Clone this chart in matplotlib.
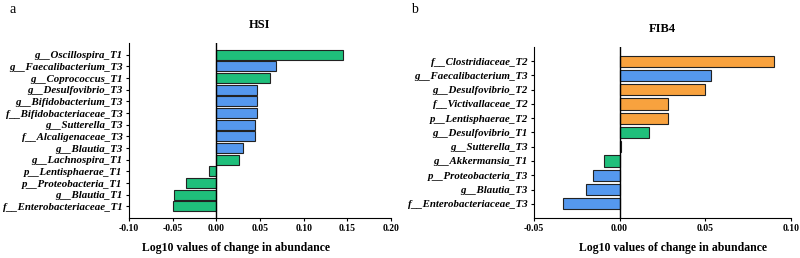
import numpy as np
import matplotlib.pyplot as plt

# HSI panel data (top to bottom)
hsi_labels = ['g__Oscillospira_T1', 'g__Faecalibacterium_T3', 'g__Coprococcus_T1',
              'g__Desulfovibrio_T3', 'g__Bifidobacterium_T3', 'f__Bifidobacteriaceae_T3',
              'g__Sutterella_T3', 'f__Alcaligenaceae_T3', 'g__Blautia_T3',
              'g__Lachnospira_T1', 'p__Lentisphaerae_T1', 'p__Proteobacteria_T1',
              'g__Blautia_T1', 'f__Enterobacteriaceae_T1']
hsi_values = [0.145, 0.068, 0.062, 0.047, 0.046, 0.046, 0.044, 0.044, 0.031,
              0.026, -0.008, -0.035, -0.048, -0.049]

# FIB4 panel data (top to bottom)
fib_labels = ['f__Clostridiaceae_T2', 'g__Faecalibacterium_T3', 'g__Desulfovibrio_T2',
              'f__Victivallaceae_T2', 'p__Lentisphaerae_T2', 'g__Desulfovibrio_T1',
              'g__Sutterella_T3', 'g__Akkermansia_T1', 'p__Proteobacteria_T3',
              'g__Blautia_T3', 'f__Enterobacteriaceae_T3']
fib_values = [0.0905, 0.0537, 0.050, 0.0285, 0.0285, 0.0171, 0.0008, -0.0088,
              -0.0156, -0.0194, -0.0333]

colors = {'T1': '#1fbf7b', 'T2': '#f8a23e', 'T3': '#5598ee'}

plt.rcParams['font.family'] = 'Liberation Serif'

fig = plt.figure(figsize=(8, 2.58), dpi=100)


def draw(ax, labels, values, xlim, xticks, title, height, xlab_x):
    y = np.arange(len(labels))
    cols = [colors[l[-2:]] for l in labels]
    ax.barh(y, values, height=height, color=cols, edgecolor='#222222', linewidth=0.8)
    ax.axvline(0, color='black', linewidth=1.0)
    ax.set_ylim(len(labels), -1)
    ax.set_xlim(*xlim)
    ax.set_xticks(xticks)
    ax.set_xticklabels(['%.2f' % t for t in xticks], fontsize=7, fontweight='bold')
    ax.set_yticks(y)
    ax.set_yticklabels(labels, fontsize=7.8, fontweight='bold', style='italic')
    ax.spines['top'].set_visible(False)
    ax.spines['right'].set_visible(False)
    ax.tick_params(axis='both', length=2.5, width=0.8, pad=2)
    ax.set_title(title, fontsize=9, fontweight='bold', pad=11)
    ax.set_xlabel('Log10 values of change in abundance', fontsize=8.5,
                  fontweight='bold')
    ax.xaxis.set_label_coords(xlab_x, -0.14)


ax1 = fig.add_axes([0.161, 0.155, 0.328, 0.678])
draw(ax1, hsi_labels, hsi_values, (-0.10, 0.20),
     [-0.10, -0.05, 0.00, 0.05, 0.10, 0.15, 0.20], 'HSI', 0.85, 0.41)

ax2 = fig.add_axes([0.6675, 0.155, 0.3208, 0.663])
draw(ax2, fib_labels, fib_values, (-0.05, 0.10),
     [-0.05, 0.00, 0.05, 0.10], 'FIB4', 0.8, 0.54)

fig.text(0.012, 0.965, 'a', fontsize=10, va='center')
fig.text(0.514, 0.965, 'b', fontsize=10, va='center')

plt.savefig('out.png', dpi=100)
